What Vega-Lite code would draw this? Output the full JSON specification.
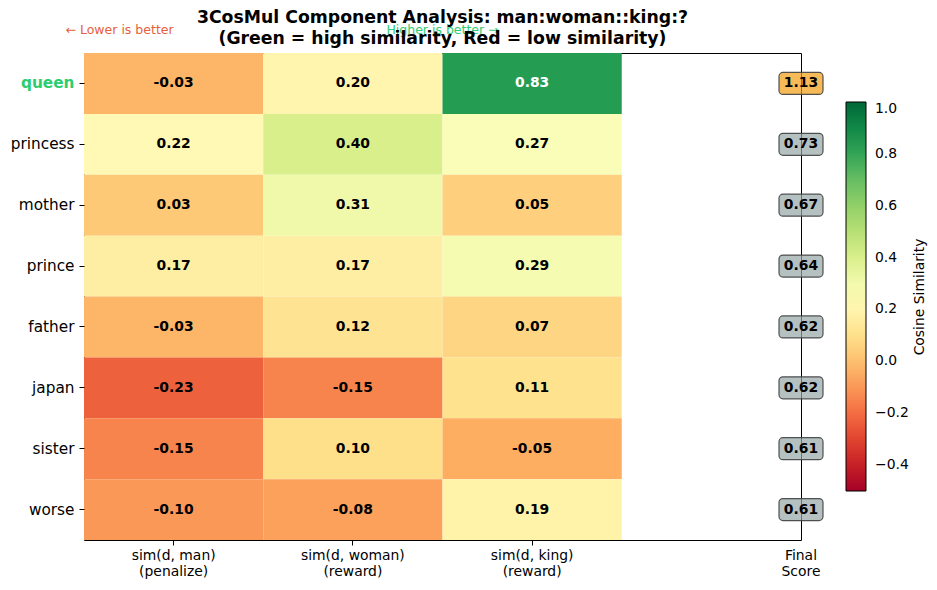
{
  "$schema": "https://vega.github.io/schema/vega-lite/v6.json",
  "width": 717,
  "height": 487,
  "autosize": {"type": "none"},
  "padding": {"left": 84, "top": 53, "right": 136, "bottom": 50},
  "config": {
    "font": "DejaVu Sans",
    "view": {"stroke": "black", "strokeWidth": 1},
    "locale": {"number": {"decimal": ".", "thousands": ",", "grouping": [3], "currency": ["$", ""], "minus": "-"}}
  },
  "title": {
    "text": ["3CosMul Component Analysis: man:woman::king:?", "(Green = high similarity, Red = low similarity)"],
    "fontSize": 17.3,
    "fontWeight": "bold",
    "color": "black",
    "anchor": "middle",
    "frame": "group",
    "offset": -23,
    "lineHeight": 21
  },
  "datasets": {
    "cells": [
      {"word": "queen", "metric": "man", "value": -0.03},
      {"word": "queen", "metric": "woman", "value": 0.20},
      {"word": "queen", "metric": "king", "value": 0.83},
      {"word": "princess", "metric": "man", "value": 0.22},
      {"word": "princess", "metric": "woman", "value": 0.40},
      {"word": "princess", "metric": "king", "value": 0.27},
      {"word": "mother", "metric": "man", "value": 0.03},
      {"word": "mother", "metric": "woman", "value": 0.31},
      {"word": "mother", "metric": "king", "value": 0.05},
      {"word": "prince", "metric": "man", "value": 0.17},
      {"word": "prince", "metric": "woman", "value": 0.17},
      {"word": "prince", "metric": "king", "value": 0.29},
      {"word": "father", "metric": "man", "value": -0.03},
      {"word": "father", "metric": "woman", "value": 0.12},
      {"word": "father", "metric": "king", "value": 0.07},
      {"word": "japan", "metric": "man", "value": -0.23},
      {"word": "japan", "metric": "woman", "value": -0.15},
      {"word": "japan", "metric": "king", "value": 0.11},
      {"word": "sister", "metric": "man", "value": -0.15},
      {"word": "sister", "metric": "woman", "value": 0.10},
      {"word": "sister", "metric": "king", "value": -0.05},
      {"word": "worse", "metric": "man", "value": -0.10},
      {"word": "worse", "metric": "woman", "value": -0.08},
      {"word": "worse", "metric": "king", "value": 0.19}
    ],
    "scores": [
      {"word": "queen", "score": 1.13},
      {"word": "princess", "score": 0.73},
      {"word": "mother", "score": 0.67},
      {"word": "prince", "score": 0.64},
      {"word": "father", "score": 0.62},
      {"word": "japan", "score": 0.62},
      {"word": "sister", "score": 0.61},
      {"word": "worse", "score": 0.61}
    ]
  },
  "encoding": {
    "x": {
      "field": "metric",
      "type": "nominal",
      "sort": ["man", "woman", "king", "final"],
      "scale": {"domain": ["man", "woman", "king", "final"], "paddingInner": 0, "paddingOuter": 0},
      "axis": {
        "title": null,
        "domain": false,
        "labelAngle": 0,
        "tickColor": "black",
        "tickSize": 5,
        "tickOpacity": {"condition": {"test": "datum.value === 'final'", "value": 0}, "value": 1},
        "labelOffset": {"condition": {"test": "datum.value === 'final'", "value": 89.6}, "value": 0},
        "labelFontSize": 13.9,
        "labelColor": "black",
        "labelPadding": 3,
        "labelLineHeight": 16.5,
        "labelExpr": "datum.value === 'man' ? ['sim(d, man)', '(penalize)'] : datum.value === 'woman' ? ['sim(d, woman)', '(reward)'] : datum.value === 'king' ? ['sim(d, king)', '(reward)'] : ['Final', 'Score']"
      }
    },
    "y": {
      "field": "word",
      "type": "nominal",
      "sort": ["queen", "princess", "mother", "prince", "father", "japan", "sister", "worse"],
      "scale": {"domain": ["queen", "princess", "mother", "prince", "father", "japan", "sister", "worse"], "paddingInner": 0, "paddingOuter": 0},
      "axis": {
        "title": null,
        "domain": false,
        "ticks": true,
        "tickColor": "black",
        "tickSize": 5,
        "labelFontSize": 15.3,
        "labelPadding": 5,
        "labelColor": {"condition": {"test": "datum.value === 'queen'", "value": "#2ecc71"}, "value": "black"},
        "labelFontWeight": {"condition": {"test": "datum.value === 'queen'", "value": "bold"}, "value": "normal"}
      }
    }
  },
  "layer": [
    {
      "data": {"name": "cells"},
      "mark": {"type": "rect"},
      "encoding": {
        "color": {
          "field": "value",
          "type": "quantitative",
          "scale": {
            "domain": [-0.5, -0.35, -0.2, -0.05, 0.1, 0.25, 0.4, 0.55, 0.7, 0.85, 1.0],
            "range": ["#a50026", "#d73027", "#f46d43", "#fdae61", "#fee08b", "#ffffbf", "#d9ef8b", "#a6d96a", "#66bd63", "#1a9850", "#006837"],
            "interpolate": "rgb"
          },
          "legend": {
            "orient": "none",
            "legendX": 762,
            "legendY": 49,
            "direction": "vertical",
            "gradientLength": 389,
            "gradientThickness": 20,
            "gradientStrokeColor": "black",
            "gradientStrokeWidth": 1,
            "values": [-0.4, -0.2, 0, 0.2, 0.4, 0.6, 0.8, 1.0],
            "format": ".1f",
            "labelExpr": "replace(datum.label, '-', '−')",
            "labelFontSize": 13.9,
            "labelColor": "black",
            "labelOffset": 9,
            "title": "Cosine Similarity",
            "titleOrient": "right",
            "titleAnchor": "middle",
            "titleFontSize": 13.9,
            "titleFontWeight": "normal",
            "titleColor": "black",
            "titlePadding": 18,
            "encode": {"title": {"update": {"angle": {"value": 270}}}}
          }
        }
      }
    },
    {
      "data": {"name": "cells"},
      "mark": {"type": "text", "fontSize": 13.9, "fontWeight": "bold"},
      "encoding": {
        "text": {"field": "value", "type": "quantitative", "format": ".2f"},
        "color": {"condition": {"test": "datum.value > 0.6", "value": "white"}, "value": "black"}
      }
    },
    {
      "data": {"name": "scores"},
      "mark": {
        "type": "point",
        "filled": true,
        "shape": "M-0.82,-0.5 L0.82,-0.5 A0.18,0.18 0 0 1 1,-0.32 L1,0.32 A0.18,0.18 0 0 1 0.82,0.5 L-0.82,0.5 A0.18,0.18 0 0 1 -1,0.32 L-1,-0.32 A0.18,0.18 0 0 1 -0.82,-0.5 Z",
        "size": 1936,
        "stroke": "#404040",
        "strokeWidth": 1.2,
        "strokeOpacity": 0.9,
        "fillOpacity": 0.7,
        "opacity": 1
      },
      "encoding": {
        "x": {"datum": "final", "type": "nominal", "bandPosition": 1},
        "fill": {"condition": {"test": "datum.word === 'queen'", "value": "#f39c12"}, "value": "#95a5a6"}
      }
    },
    {
      "data": {"name": "scores"},
      "mark": {"type": "text", "fontSize": 13.9, "fontWeight": "bold", "color": "black"},
      "encoding": {
        "x": {"datum": "final", "type": "nominal", "bandPosition": 1},
        "text": {"field": "score", "type": "quantitative", "format": ".2f"}
      }
    },
    {
      "data": {"values": [{"note": "← Lower is better"}]},
      "mark": {"type": "text", "fontSize": 12.5, "dy": -23, "baseline": "middle", "align": "right", "color": "#e4603c"},
      "encoding": {
        "x": {"datum": "man", "type": "nominal", "bandPosition": 0.5},
        "y": {"datum": "queen", "type": "nominal", "bandPosition": 0},
        "text": {"field": "note"}
      }
    },
    {
      "data": {"values": [{"note": "Higher is better →"}]},
      "mark": {"type": "text", "fontSize": 12.5, "dy": -23, "baseline": "middle", "align": "center", "color": "#2ecc71"},
      "encoding": {
        "x": {"datum": "king", "type": "nominal", "bandPosition": 0},
        "y": {"datum": "queen", "type": "nominal", "bandPosition": 0},
        "text": {"field": "note"}
      }
    }
  ]
}
